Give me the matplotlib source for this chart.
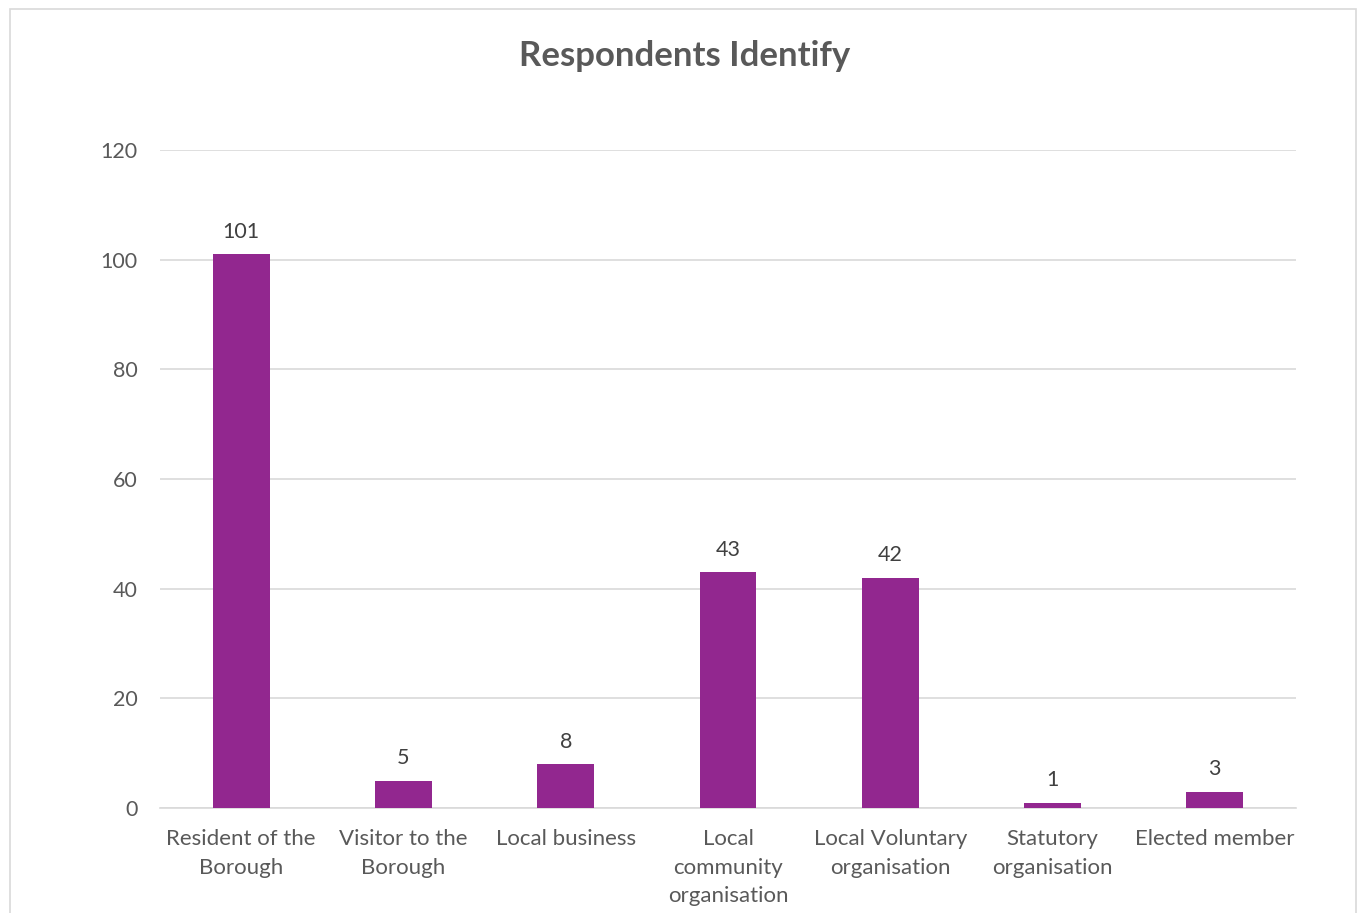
import numpy as np
import matplotlib.pyplot as plt
from matplotlib.patches import Rectangle

categories = [
    "Resident of the\nBorough",
    "Visitor to the\nBorough",
    "Local business",
    "Local\ncommunity\norganisation",
    "Local Voluntary\norganisation",
    "Statutory\norganisation",
    "Elected member",
]
counts = [101, 5, 8, 43, 42, 1, 3]
y_ticks = [0, 20, 40, 60, 80, 100, 120]
title = "Respondents Identify"

BAR_COLOR = "#92278F"
TEXT_COLOR = "#595959"
GRID_COLOR = "#D9D9D9"

plt.rcParams["font.family"] = ["Lato", "DejaVu Sans"]

fig = plt.figure(figsize=(13.6, 9.13), dpi=100)
ax = fig.add_axes([160 / 1360, 1 - 808 / 913, 1136 / 1360, 658 / 913])

# chart frame
fig.patches.append(Rectangle((10 / 1360, -0.05), 1346 / 1360, 1.05 - 9 / 913,
                             transform=fig.transFigure, fill=False,
                             edgecolor=GRID_COLOR, linewidth=1.2))

x = np.arange(len(categories))
bars = ax.bar(x, counts, width=0.35, color=BAR_COLOR, zorder=3)
for rect, v in zip(bars, counts):
    ax.annotate(str(v), (rect.get_x() + rect.get_width() / 2, v),
                xytext=(0, 9), textcoords="offset points",
                ha="center", va="bottom", fontsize=15.5, color="#404040")

ax.set_xlim(-0.5, len(categories) - 0.5)
ax.set_ylim(0, 120)
ax.set_yticks(y_ticks)
ax.set_xticks(x)
ax.set_xticklabels(categories, fontsize=16, color=TEXT_COLOR, linespacing=1.55)
ax.tick_params(axis="y", labelsize=15.5, labelcolor=TEXT_COLOR, length=0, pad=16)
ax.tick_params(axis="x", length=0, pad=15)
ax.grid(axis="y", color=GRID_COLOR, linewidth=1.2, zorder=0)
for side in ["top", "right", "left"]:
    ax.spines[side].set_visible(False)
ax.spines["bottom"].set_color(GRID_COLOR)
ax.spines["bottom"].set_linewidth(1.2)

fig.text(685 / 1360, 1 - 56 / 913, title, ha="center", va="center",
         fontsize=25, fontweight="bold", color=TEXT_COLOR)

fig.savefig("out.png", dpi=100)
